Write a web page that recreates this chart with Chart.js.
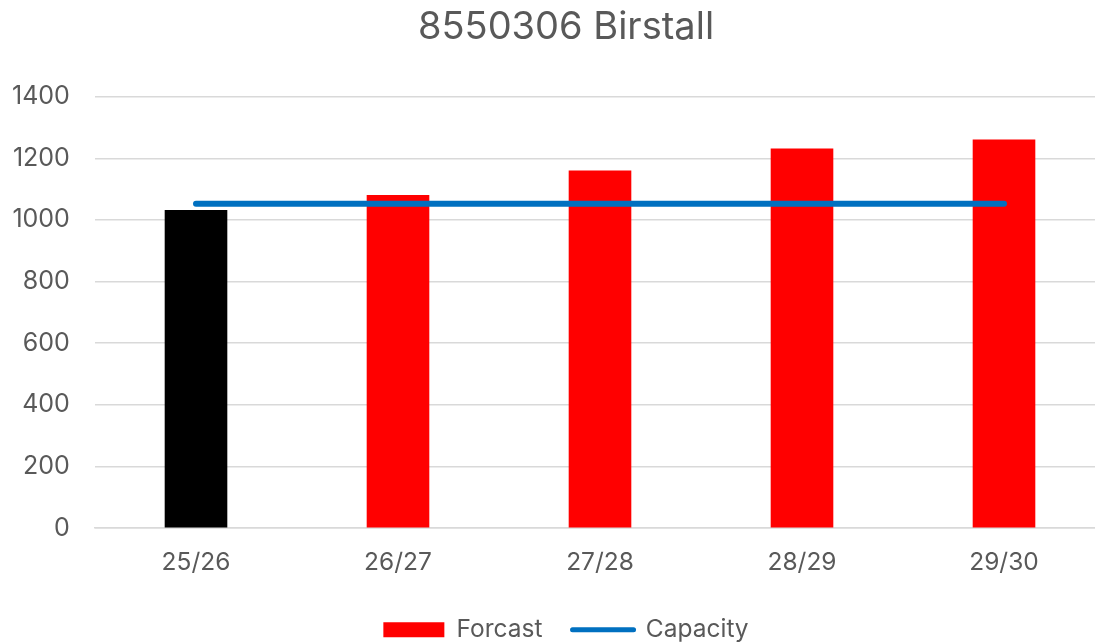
<!DOCTYPE html>
<html>
<head>
<meta charset="utf-8">
<script src="https://cdn.jsdelivr.net/npm/chart.js@4"></script>
<style>
html, body { margin: 0; padding: 0; overflow: hidden; background: #fff; }
#wrap { width: 1134px; height: 644px; }
</style>
</head>
<body>
<div id="wrap"><canvas id="birstall_chart_area"></canvas></div>
<script>
"use strict"

// chart data
var categories = ["25/26", "26/27", "27/28", "28/29", "29/30"];
var forcast = [1032, 1081, 1160, 1232, 1261];
var capacity = [1052, 1052, 1052, 1052, 1052];
var yTicks = [0, 200, 400, 600, 800, 1000, 1200, 1400];

var textGrey = "#595959";
var fontName = "Inter, 'Liberation Sans', sans-serif";

var chartArea = document.getElementById("birstall_chart_area");
var birstallChart = new Chart(chartArea, {
    type: 'bar',
    data: {
        labels: categories,
        datasets: [
            {
                type: 'line',
                label: "Capacity",
                data: capacity,
                borderColor: "#0070C0",
                backgroundColor: "#0070C0",
                borderWidth: 6,
                borderCapStyle: 'round',
                pointRadius: 0,
                fill: false,
                order: 0
            },
            {
                label: "Forcast",
                data: forcast,
                // first year is actual, drawn black
                backgroundColor: function(ctx){
                    return ctx.dataIndex === 0 ? "#000000" : "#FF0000";
                },
                barPercentage: 0.31,
                categoryPercentage: 1,
                order: 1
            }
        ]
    },
    options: {
        responsive: true,
        maintainAspectRatio: false,
        animation: false,
        layout: { padding: { left: 27, right: 29, top: 0, bottom: -8 } },
        plugins: {
            title: {
                display: true,
                text: "8550306 Birstall",
                color: textGrey,
                font: { family: fontName, size: 38, weight: 'normal' },
                padding: { top: 5, bottom: 46 }
            },
            legend: {
                position: 'bottom',
                labels: {
                    color: textGrey,
                    font: { family: fontName, size: 24.5 },
                    usePointStyle: true,
                    pointStyleWidth: 61,
                    boxHeight: 15,
                    padding: 30,
                    generateLabels: function(chart){
                        return [
                            { text: "Forcast", fillStyle: "#FF0000", strokeStyle: "#FF0000", lineWidth: 0,
                              pointStyle: 'rect', datasetIndex: 1, hidden: false, fontColor: textGrey },
                            { text: "Capacity", fillStyle: "#0070C0", strokeStyle: "#0070C0", lineWidth: 5,
                              lineCap: 'round', pointStyle: 'line', datasetIndex: 0, hidden: false, fontColor: textGrey }
                        ];
                    }
                }
            },
            tooltip: { enabled: false }
        },
        scales: {
            x: {
                grid: { display: false, drawTicks: false },
                border: { display: true, color: "#d9d9d9", width: 1.5 },
                ticks: { color: textGrey, font: { family: fontName, size: 24.5, lineHeight: 0.3 }, padding: 31 },
                afterFit: function(axis){ axis.height -= 10; }
            },
            y: {
                min: 0,
                max: 1400,
                afterBuildTicks: function(axis){
                    axis.ticks = yTicks.map(function(v){ return { value: v }; });
                },
                afterFit: function(axis){ axis.width = 68; },
                grid: { color: "#d9d9d9", lineWidth: 1.5, drawTicks: false },
                border: { display: false },
                ticks: {
                    color: textGrey,
                    font: { family: fontName, size: 25 },
                    // mirrored so labels are not clipped to the narrow axis box
                    mirror: true,
                    crossAlign: 'far',
                    padding: -83,
                    callback: function(value){ return String(value); }
                }
            }
        }
    }
});
</script>
</body>
</html>
